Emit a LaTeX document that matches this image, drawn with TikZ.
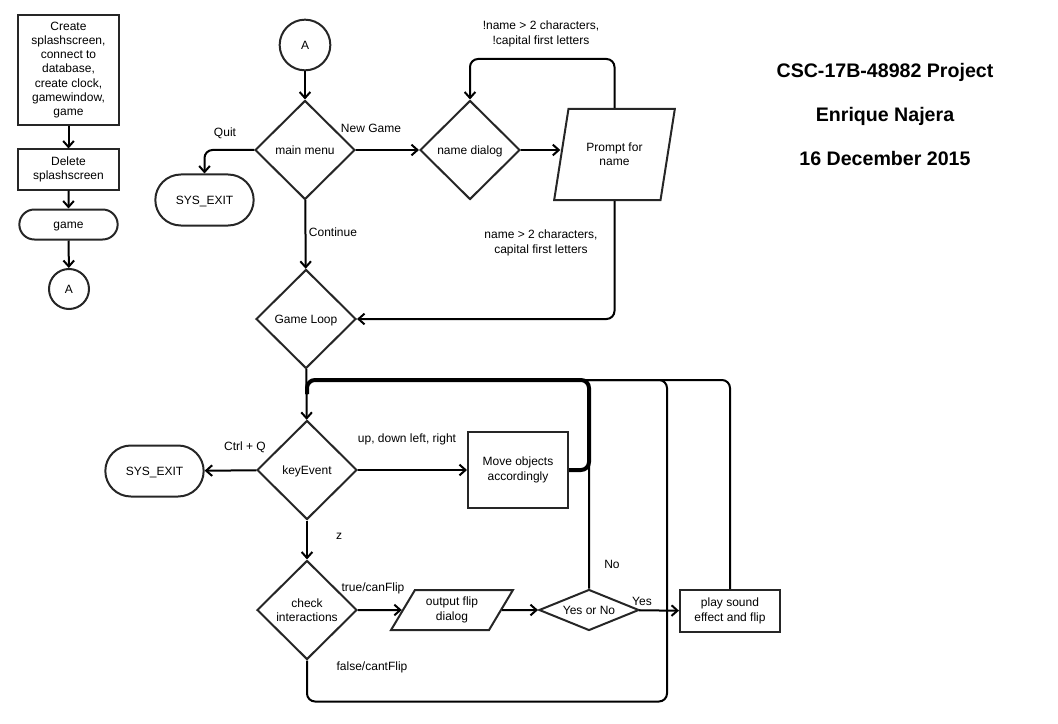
\documentclass[tikz,border=0pt]{standalone}
\usepackage{fontspec}
\setmainfont{Liberation Sans}
\usetikzlibrary{shapes.geometric,shapes.misc,arrows.meta}

\begin{document}
\begin{tikzpicture}[
  x=0.75pt, y=-0.75pt,
  every node/.style={font=\fontsize{9}{10.8}\selectfont},
  oneline/.style={text height=1.5ex, text depth=.25ex},
  process/.style={rectangle, draw=black!85, line width=1.5pt, minimum width=75.75pt, align=center, inner sep=1pt},
  terminal/.style={rounded rectangle, draw=black!85, line width=1.5pt, minimum width=75.75pt, inner sep=1pt, oneline},
  decision/.style={diamond, draw=black!85, line width=1.5pt, minimum width=75pt, minimum height=74.25pt, inner sep=0pt},
  io/.style={trapezium, trapezium stretches=true, draw=black!85, line width=1.5pt, inner sep=1pt, align=center},
  link/.style={circle, draw=black!85, line width=1.5pt, inner sep=0pt, oneline},
  arrow/.style={-{Straight Barb[length=4.5pt,width=8pt]}, line width=1.5pt},
  back/.style={line width=1.5pt, rounded corners=6pt},
  title/.style={font=\bfseries\fontsize{14.7}{17}\selectfont, oneline}
]
  \useasboundingbox (0,0) rectangle (1058,724);

  \node[process, minimum height=82.5pt, font=\fontsize{9}{10.6}\selectfont] (init) at (68.5,70) {Create\\splashscreen,\\connect to\\database,\\create clock,\\gamewindow,\\game};
  \node[process, minimum height=30pt] (del) at (68.5,169.5) {Delete\\splashscreen};
  \node[terminal, minimum height=22.5pt] (game) at (68.5,224.5) {game};
  \node[link, minimum size=30pt] (offA) at (69,289) {A};

  \node[link, minimum size=38pt] (startA) at (305,45) {A};
  \node[decision, oneline] (menu) at (305,150) {main menu};
  \node[terminal, minimum height=38.25pt] (quit) at (204.5,200) {SYS\_EXIT};
  \node[decision, oneline] (namedlg) at (470,150) {name dialog};
  \node[io, trapezium left angle=70.6, trapezium right angle=109.4, minimum width=90.75pt, minimum height=68.25pt] (prompt) at (614.5,154.5) {Prompt for\\name};
  \node[decision, oneline] (gameloop) at (306,319) {Game Loop};

  \node[decision, oneline] (key) at (307,470) {keyEvent};
  \node[terminal, minimum height=38.25pt] (exit) at (154.5,471) {SYS\_EXIT};
  \node[process, minimum width=75pt, minimum height=57pt] (move) at (518,470) {Move objects\\accordingly};
  \node[decision, align=center] (check) at (307,610) {check\\interactions};
  \node[io, trapezium left angle=58, trapezium right angle=122, minimum width=91.5pt, minimum height=30pt] (flip) at (452,610) {output flip\\dialog};
  \node[decision, oneline, aspect=2.4, minimum height=30.75pt] (yesno) at (589,610) {Yes or No};
  \node[process, minimum width=75pt, minimum height=31.5pt] (play) at (730,611) {play sound\\effect and flip};

  \node (lquit) at (225,133) {Quit};
  \node (lnew) at (371,128) {New Game};
  \node[align=center] (lbad) at (541,34) {!name > 2 characters,\\!capital first letters};
  \node[align=center] (lgood) at (541,243) {name > 2 characters,\\capital first letters};
  \node (lcont) at (333,232) {Continue};
  \node (lctrl) at (245,447) {Ctrl + Q};
  \node (lmove) at (407,439) {up, down left, right};
  \node (lz) at (339,536) {z};
  \node (ltrue) at (373,588) {true/canFlip};
  \node (lfalse) at (372,667) {false/cantFlip};
  \node (lno) at (612,564) {No};
  \node (lyes) at (642,601) {Yes};

  \node[title] (proj) at (885,73) {CSC-17B-48982 Project};
  \node[title] (author) at (885,117.5) {Enrique Najera};
  \node[title] (date) at (885,161) {16 December 2015};

  \coordinate (top) at (307,380);
  \coordinate (jn) at (307,394);

  \draw[arrow] (init) -- (del);
  \draw[arrow] (del) -- (game);
  \draw[arrow] (game) -- (offA);
  \draw[arrow] (startA) -- (menu);
  \draw[arrow, rounded corners=6pt] (menu.west) -| (quit.north);
  \draw[arrow] (menu) -- (namedlg);
  \draw[arrow] (namedlg.east) -- (namedlg.east -| prompt.west);
  \draw[arrow, rounded corners=6pt] (prompt.center |- prompt.north) -- ++(0,-49) -| (namedlg.north);
  \draw[arrow, rounded corners=6pt] (prompt.center |- prompt.south) |- (gameloop.east);
  \draw[arrow] (menu) -- (gameloop);

  \draw[back, line width=3pt] (move.east) -| (yesno.north |- top) -- (top) -- (jn);
  \draw[back] (yesno.north) |- (top) -- (jn);
  \draw[back] (play.north) |- (top) -- (jn);
  \draw[back] (check.south) -- ++(0,41) -| (667,380) -- (top) -- (jn);
  \draw[arrow] (gameloop) -- (key);
  \draw[arrow] (key) -- (exit);
  \draw[arrow] (key) -- (move);
  \draw[arrow] (key) -- (check);
  \draw[arrow] (check) -- (flip);
  \draw[arrow] (flip) -- (yesno);
  \draw[arrow] (yesno) -- (play);
\end{tikzpicture}
\end{document}
